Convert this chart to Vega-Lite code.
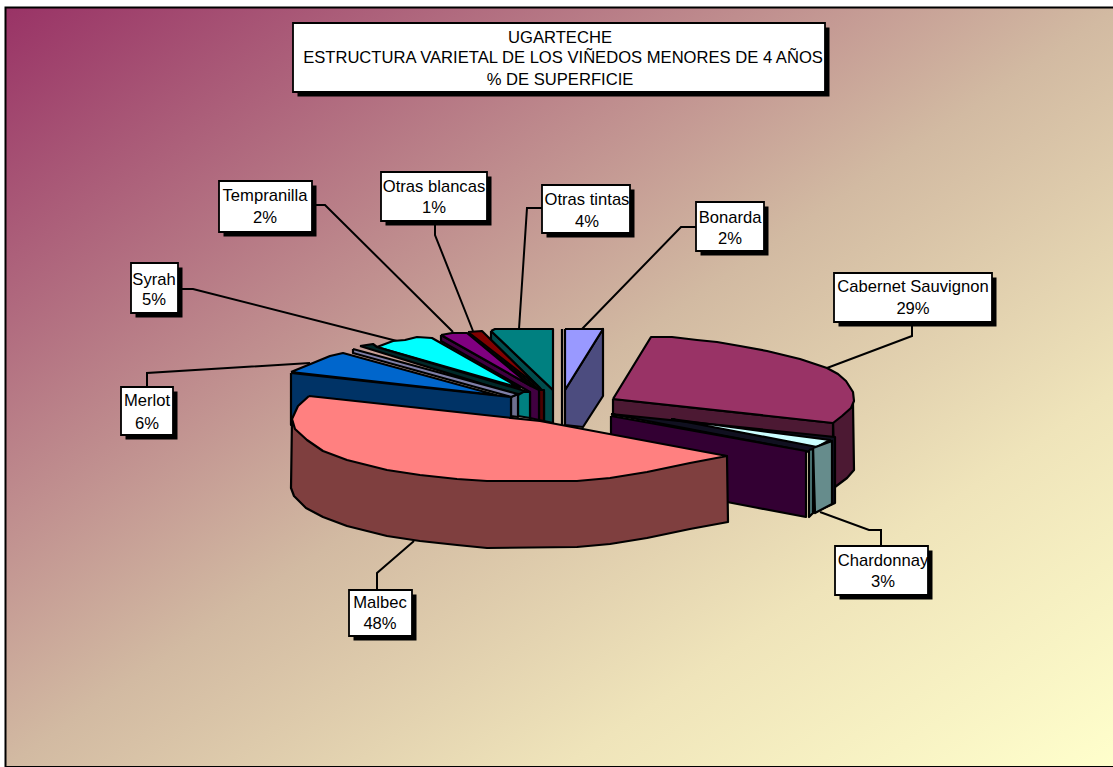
{"$schema":"https://vega.github.io/schema/vega-lite/v6.json","width":1113,"height":767,"padding":0,"autosize":"none","background":"white","view":{"stroke":null},
"datasets":{
"frame":[{"x":5.5,"x2":1120,"y":7.5,"y2":767}],
"leaders":[
{"s":"Cabernet Sauvignon","i":0,"x":912,"y":322},{"s":"Cabernet Sauvignon","i":1,"x":912,"y":336},{"s":"Cabernet Sauvignon","i":2,"x":827,"y":368},
{"s":"Chardonnay","i":0,"x":820,"y":512},{"s":"Chardonnay","i":1,"x":869,"y":530},{"s":"Chardonnay","i":2,"x":881,"y":530},{"s":"Chardonnay","i":3,"x":881,"y":545},
{"s":"Malbec","i":0,"x":414,"y":541},{"s":"Malbec","i":1,"x":377,"y":573},{"s":"Malbec","i":2,"x":377,"y":590},
{"s":"Merlot","i":0,"x":147,"y":387},{"s":"Merlot","i":1,"x":147,"y":373},{"s":"Merlot","i":2,"x":310,"y":363},
{"s":"Syrah","i":0,"x":182,"y":289},{"s":"Syrah","i":1,"x":193,"y":289},{"s":"Syrah","i":2,"x":397,"y":341},
{"s":"Tempranilla","i":0,"x":315,"y":205},{"s":"Tempranilla","i":1,"x":325,"y":205},{"s":"Tempranilla","i":2,"x":453,"y":332},
{"s":"Otras blancas","i":0,"x":435,"y":222},{"s":"Otras blancas","i":1,"x":435,"y":235},{"s":"Otras blancas","i":2,"x":473,"y":331},
{"s":"Otras tintas","i":0,"x":543,"y":208},{"s":"Otras tintas","i":1,"x":527,"y":208},{"s":"Otras tintas","i":2,"x":519,"y":329},
{"s":"Bonarda","i":0,"x":697,"y":227},{"s":"Bonarda","i":1,"x":681,"y":227},{"s":"Bonarda","i":2,"x":582,"y":329}],
"faces":[
{"p":"bon_side","i":0,"x":565,"y":390},{"p":"bon_side","i":1,"x":603,"y":329},{"p":"bon_side","i":2,"x":603,"y":396},{"p":"bon_side","i":3,"x":583,"y":427},{"p":"bon_side","i":4,"x":565,"y":425},{"p":"bon_side","i":5,"x":565,"y":390},
{"p":"bon_top","i":0,"x":565,"y":329},{"p":"bon_top","i":1,"x":603,"y":329},{"p":"bon_top","i":2,"x":565,"y":390},{"p":"bon_top","i":3,"x":565,"y":329},
{"p":"gap","i":0,"x":562,"y":329},{"p":"gap","i":1,"x":562,"y":425},
{"p":"tin_side","i":0,"x":491,"y":331},{"p":"tin_side","i":1,"x":553,"y":390},{"p":"tin_side","i":2,"x":553,"y":423},{"p":"tin_side","i":3,"x":544,"y":421},{"p":"tin_side","i":4,"x":544,"y":392},{"p":"tin_side","i":5,"x":491,"y":340},{"p":"tin_side","i":6,"x":491,"y":331},
{"p":"tin_top","i":0,"x":491,"y":331},{"p":"tin_top","i":1,"x":495,"y":329},{"p":"tin_top","i":2,"x":553,"y":329},{"p":"tin_top","i":3,"x":553,"y":390},{"p":"tin_top","i":4,"x":491,"y":331},
{"p":"bla_side","i":0,"x":468,"y":334},{"p":"bla_side","i":1,"x":540,"y":390},{"p":"bla_side","i":2,"x":544,"y":390},{"p":"bla_side","i":3,"x":544,"y":421},{"p":"bla_side","i":4,"x":539,"y":420},{"p":"bla_side","i":5,"x":539,"y":392},{"p":"bla_side","i":6,"x":468,"y":338},{"p":"bla_side","i":7,"x":468,"y":334},
{"p":"bla_top","i":0,"x":468,"y":332},{"p":"bla_top","i":1,"x":482,"y":331},{"p":"bla_top","i":2,"x":540,"y":388},{"p":"bla_top","i":3,"x":468,"y":332},
{"p":"tem_side","i":0,"x":441,"y":335},{"p":"tem_side","i":1,"x":531,"y":386},{"p":"tem_side","i":2,"x":539,"y":390},{"p":"tem_side","i":3,"x":539,"y":420},{"p":"tem_side","i":4,"x":530,"y":418},{"p":"tem_side","i":5,"x":530,"y":392},{"p":"tem_side","i":6,"x":441,"y":341},{"p":"tem_side","i":7,"x":441,"y":335},
{"p":"tem_top","i":0,"x":441,"y":335},{"p":"tem_top","i":1,"x":452,"y":333},{"p":"tem_top","i":2,"x":467,"y":333},{"p":"tem_top","i":3,"x":531,"y":386},{"p":"tem_top","i":4,"x":441,"y":335},
{"p":"syr_side","i":0,"x":518,"y":392},{"p":"syr_side","i":1,"x":530,"y":392},{"p":"syr_side","i":2,"x":530,"y":418},{"p":"syr_side","i":3,"x":518,"y":416},{"p":"syr_side","i":4,"x":518,"y":392},
{"p":"syr_top","i":0,"x":377,"y":347},{"p":"syr_top","i":1,"x":393,"y":341},{"p":"syr_top","i":2,"x":405,"y":340},{"p":"syr_top","i":3,"x":417,"y":337},{"p":"syr_top","i":4,"x":432,"y":338},{"p":"syr_top","i":5,"x":520,"y":388},{"p":"syr_top","i":6,"x":377,"y":347},
{"p":"dark_top","i":0,"x":360,"y":346},{"p":"dark_top","i":1,"x":373,"y":344},{"p":"dark_top","i":2,"x":377,"y":347},{"p":"dark_top","i":3,"x":525,"y":391},{"p":"dark_top","i":4,"x":518,"y":395},{"p":"dark_top","i":5,"x":360,"y":346},
{"p":"gray_side","i":0,"x":511,"y":397},{"p":"gray_side","i":1,"x":518,"y":394},{"p":"gray_side","i":2,"x":518,"y":417},{"p":"gray_side","i":3,"x":511,"y":416},{"p":"gray_side","i":4,"x":511,"y":397},
{"p":"gray_top","i":0,"x":353,"y":349},{"p":"gray_top","i":1,"x":353,"y":353},{"p":"gray_top","i":2,"x":511,"y":397},{"p":"gray_top","i":3,"x":518,"y":394},{"p":"gray_top","i":4,"x":353,"y":349},
{"p":"mer_side","i":0,"x":291,"y":373},{"p":"mer_side","i":1,"x":511,"y":397},{"p":"mer_side","i":2,"x":511,"y":430},{"p":"mer_side","i":3,"x":291,"y":425},{"p":"mer_side","i":4,"x":291,"y":373},
{"p":"mer_top","i":0,"x":291,"y":372},{"p":"mer_top","i":1,"x":313,"y":363},{"p":"mer_top","i":2,"x":330,"y":356},{"p":"mer_top","i":3,"x":343,"y":353},{"p":"mer_top","i":4,"x":496,"y":395},{"p":"mer_top","i":5,"x":291,"y":372},
{"p":"cab_right","i":0,"x":833,"y":423},{"p":"cab_right","i":1,"x":853,"y":403},{"p":"cab_right","i":2,"x":854,"y":470},{"p":"cab_right","i":3,"x":847,"y":478},{"p":"cab_right","i":4,"x":835,"y":487},{"p":"cab_right","i":5,"x":833,"y":423},
{"p":"cab_front","i":0,"x":613,"y":399},{"p":"cab_front","i":1,"x":833,"y":423},{"p":"cab_front","i":2,"x":833,"y":440},{"p":"cab_front","i":3,"x":613,"y":415},{"p":"cab_front","i":4,"x":613,"y":399},
{"p":"cab_top","i":0,"x":613,"y":399},{"p":"cab_top","i":1,"x":651,"y":337},{"p":"cab_top","i":2,"x":672,"y":337},{"p":"cab_top","i":3,"x":697,"y":340},{"p":"cab_top","i":4,"x":717,"y":342},{"p":"cab_top","i":5,"x":740,"y":346},{"p":"cab_top","i":6,"x":767,"y":351},{"p":"cab_top","i":7,"x":800,"y":359},{"p":"cab_top","i":8,"x":827,"y":368},{"p":"cab_top","i":9,"x":838,"y":374},{"p":"cab_top","i":10,"x":846,"y":381},{"p":"cab_top","i":11,"x":853,"y":392},{"p":"cab_top","i":12,"x":854,"y":401},{"p":"cab_top","i":13,"x":851,"y":408},{"p":"cab_top","i":14,"x":842,"y":416},{"p":"cab_top","i":15,"x":833,"y":423},{"p":"cab_top","i":16,"x":613,"y":399},
{"p":"cha_dark","i":0,"x":611,"y":414},{"p":"cha_dark","i":1,"x":835,"y":437},{"p":"cha_dark","i":2,"x":835,"y":503},{"p":"cha_dark","i":3,"x":813,"y":513},{"p":"cha_dark","i":4,"x":809,"y":452},{"p":"cha_dark","i":5,"x":611,"y":414},
{"p":"cha_top","i":0,"x":671,"y":419},{"p":"cha_top","i":1,"x":830,"y":440},{"p":"cha_top","i":2,"x":817,"y":447},{"p":"cha_top","i":3,"x":671,"y":419},
{"p":"cha_side","i":0,"x":813,"y":448},{"p":"cha_side","i":1,"x":832,"y":441},{"p":"cha_side","i":2,"x":832,"y":504},{"p":"cha_side","i":3,"x":815,"y":513},{"p":"cha_side","i":4,"x":813,"y":448},
{"p":"cha_thin","i":0,"x":809,"y":450},{"p":"cha_thin","i":1,"x":813,"y":449},{"p":"cha_thin","i":2,"x":813,"y":513},{"p":"cha_thin","i":3,"x":809,"y":517},{"p":"cha_thin","i":4,"x":809,"y":450},
{"p":"pur","i":0,"x":611,"y":416},{"p":"pur","i":1,"x":806,"y":451},{"p":"pur","i":2,"x":806,"y":517},{"p":"pur","i":3,"x":727,"y":502},{"p":"pur","i":4,"x":611,"y":479},{"p":"pur","i":5,"x":611,"y":416},
{"p":"mal_side","i":0,"x":292,"y":419},{"p":"mal_side","i":1,"x":291,"y":488},{"p":"mal_side","i":2,"x":294,"y":496},{"p":"mal_side","i":3,"x":306,"y":508},{"p":"mal_side","i":4,"x":323,"y":517},{"p":"mal_side","i":5,"x":347,"y":526},{"p":"mal_side","i":6,"x":387,"y":536},{"p":"mal_side","i":7,"x":420,"y":541},{"p":"mal_side","i":8,"x":457,"y":545},{"p":"mal_side","i":9,"x":487,"y":548},{"p":"mal_side","i":10,"x":577,"y":547},{"p":"mal_side","i":11,"x":610,"y":544},{"p":"mal_side","i":12,"x":647,"y":538},{"p":"mal_side","i":13,"x":690,"y":529},{"p":"mal_side","i":14,"x":728,"y":522},{"p":"mal_side","i":15,"x":727,"y":456},{"p":"mal_side","i":16,"x":292,"y":419},
{"p":"mal_top","i":0,"x":309,"y":396},{"p":"mal_top","i":1,"x":298,"y":406},{"p":"mal_top","i":2,"x":292,"y":419},{"p":"mal_top","i":3,"x":295,"y":429},{"p":"mal_top","i":4,"x":307,"y":440},{"p":"mal_top","i":5,"x":323,"y":451},{"p":"mal_top","i":6,"x":347,"y":460},{"p":"mal_top","i":7,"x":387,"y":470},{"p":"mal_top","i":8,"x":420,"y":475},{"p":"mal_top","i":9,"x":457,"y":479},{"p":"mal_top","i":10,"x":487,"y":481},{"p":"mal_top","i":11,"x":577,"y":481},{"p":"mal_top","i":12,"x":610,"y":478},{"p":"mal_top","i":13,"x":647,"y":472},{"p":"mal_top","i":14,"x":690,"y":463},{"p":"mal_top","i":15,"x":727,"y":456},{"p":"mal_top","i":16,"x":540,"y":421},{"p":"mal_top","i":17,"x":309,"y":396}],
"boxes":[
{"label":"Cabernet Sauvignon","share":0.29,"x":834,"x2":992,"y":273,"y2":322,"xc":913,"y1":287,"y3":309},
{"label":"Chardonnay","share":0.03,"x":835,"x2":928,"y":546,"y2":595,"xc":883,"y1":561,"y3":582},
{"label":"Malbec","share":0.48,"x":349,"x2":412,"y":590,"y2":636,"xc":380,"y1":603,"y3":624},
{"label":"Merlot","share":0.06,"x":121,"x2":173,"y":387,"y2":435,"xc":147,"y1":401,"y3":424},
{"label":"Syrah","share":0.05,"x":131,"x2":178,"y":263,"y2":313,"xc":154,"y1":280,"y3":300},
{"label":"Tempranilla","share":0.02,"x":219,"x2":312,"y":181,"y2":232,"xc":265,"y1":196,"y3":218},
{"label":"Otras blancas","share":0.01,"x":381,"x2":487,"y":172,"y2":221,"xc":434,"y1":187,"y3":208},
{"label":"Otras tintas","share":0.04,"x":542,"x2":630,"y":185,"y2":233,"xc":587,"y1":200,"y3":222},
{"label":"Bonarda","share":0.02,"x":696,"x2":764,"y":202,"y2":251,"xc":730,"y1":218,"y3":239}],
"titlebox":[{"x":293,"x2":825,"y":23,"y2":92}],
"titlelines":[{"t":"UGARTECHE","xc":560,"y":38},{"t":"ESTRUCTURA VARIETAL DE LOS VIÑEDOS MENORES DE 4 AÑOS","xc":563,"y":58},{"t":"% DE SUPERFICIE","xc":560,"y":80}]
},
"encoding":{},
"layer":[
{"data":{"name":"frame"},"mark":{"type":"rect","stroke":"black","strokeWidth":2,"clip":true,"fill":{"gradient":"linear","x1":0,"y1":0,"x2":1,"y2":1,"stops":[{"offset":0,"color":"#993366"},{"offset":0.5,"color":"#D2BAA2"},{"offset":0.75,"color":"#EFE4BA"},{"offset":1,"color":"#FFFFCC"}]}},
"encoding":{"x":{"field":"x","type":"quantitative","scale":{"domain":[0,1113],"range":[0,1113]},"axis":null},"x2":{"field":"x2"},"y":{"field":"y","type":"quantitative","scale":{"domain":[0,767],"range":[0,767]},"axis":null},"y2":{"field":"y2"}}},
{"data":{"name":"leaders"},"mark":{"type":"line","stroke":"black","strokeWidth":2,"clip":false},
"encoding":{"x":{"field":"x","type":"quantitative","scale":{"domain":[0,1113],"range":[0,1113]},"axis":null},"y":{"field":"y","type":"quantitative","scale":{"domain":[0,767],"range":[0,767]},"axis":null},"detail":{"field":"s"},"order":{"field":"i","type":"ordinal"}}},
{"data":{"name":"faces"},"mark":{"type":"line","stroke":"black","strokeWidth":2.2,"strokeJoin":"round"},
"encoding":{"x":{"field":"x","type":"quantitative","scale":{"domain":[0,1113],"range":[0,1113]},"axis":null},"y":{"field":"y","type":"quantitative","scale":{"domain":[0,767],"range":[0,767]},"axis":null},"order":{"field":"i","type":"quantitative"},
"fill":{"field":"p","type":"nominal","legend":null,"scale":{"domain":["bon_side","bon_top","gap","tin_side","tin_top","bla_side","bla_top","tem_side","tem_top","syr_side","syr_top","dark_top","gray_side","gray_top","mer_side","mer_top","cab_right","cab_front","cab_top","cha_dark","cha_top","cha_side","cha_thin","pur","mal_side","mal_top"],
"range":["#4C4C7F","#9999FF","#000000","#004C4C","#008080","#4C0000","#800000","#400040","#800080","#008080","#00FFFF","#002828","#6E7090","#7F7FA8","#003366","#0066CC","#4C1933","#4C1933","#993366","#101020","#CCFFFF","#668C8C","#4F7A7A","#330033","#7F3F3F","#FF8080"]}}}},
{"data":{"name":"titlebox"},"mark":{"type":"rect","fill":"black","xOffset":4.5,"yOffset":4.5,"x2Offset":4.5,"y2Offset":4.5},
"encoding":{"x":{"field":"x","type":"quantitative","scale":{"domain":[0,1113],"range":[0,1113]},"axis":null},"x2":{"field":"x2"},"y":{"field":"y","type":"quantitative","scale":{"domain":[0,767],"range":[0,767]},"axis":null},"y2":{"field":"y2"}}},
{"data":{"name":"titlebox"},"mark":{"type":"rect","fill":"white","stroke":"black","strokeWidth":1.8},
"encoding":{"x":{"field":"x","type":"quantitative","scale":{"domain":[0,1113],"range":[0,1113]},"axis":null},"x2":{"field":"x2"},"y":{"field":"y","type":"quantitative","scale":{"domain":[0,767],"range":[0,767]},"axis":null},"y2":{"field":"y2"}}},
{"data":{"name":"titlelines"},"mark":{"type":"text","font":"Liberation Sans","fontSize":16.6,"color":"black","align":"center","baseline":"middle"},
"encoding":{"x":{"field":"xc","type":"quantitative","scale":{"domain":[0,1113],"range":[0,1113]},"axis":null},"y":{"field":"y","type":"quantitative","scale":{"domain":[0,767],"range":[0,767]},"axis":null},"text":{"field":"t"}}},
{"data":{"name":"boxes"},"mark":{"type":"rect","fill":"black","xOffset":4.5,"yOffset":4.5,"x2Offset":4.5,"y2Offset":4.5},
"encoding":{"x":{"field":"x","type":"quantitative","scale":{"domain":[0,1113],"range":[0,1113]},"axis":null},"x2":{"field":"x2"},"y":{"field":"y","type":"quantitative","scale":{"domain":[0,767],"range":[0,767]},"axis":null},"y2":{"field":"y2"}}},
{"data":{"name":"boxes"},"mark":{"type":"rect","fill":"white","stroke":"black","strokeWidth":1.8},
"encoding":{"x":{"field":"x","type":"quantitative","scale":{"domain":[0,1113],"range":[0,1113]},"axis":null},"x2":{"field":"x2"},"y":{"field":"y","type":"quantitative","scale":{"domain":[0,767],"range":[0,767]},"axis":null},"y2":{"field":"y2"}}},
{"data":{"name":"boxes"},"mark":{"type":"text","font":"Liberation Sans","fontSize":16.6,"color":"black","align":"center","baseline":"middle"},
"encoding":{"x":{"field":"xc","type":"quantitative","scale":{"domain":[0,1113],"range":[0,1113]},"axis":null},"y":{"field":"y1","type":"quantitative","scale":{"domain":[0,767],"range":[0,767]},"axis":null},"text":{"field":"label"}}},
{"data":{"name":"boxes"},"mark":{"type":"text","font":"Liberation Sans","fontSize":16.6,"color":"black","align":"center","baseline":"middle"},
"encoding":{"x":{"field":"xc","type":"quantitative","scale":{"domain":[0,1113],"range":[0,1113]},"axis":null},"y":{"field":"y3","type":"quantitative","scale":{"domain":[0,767],"range":[0,767]},"axis":null},"text":{"field":"share","format":".0%"}}}
]}
